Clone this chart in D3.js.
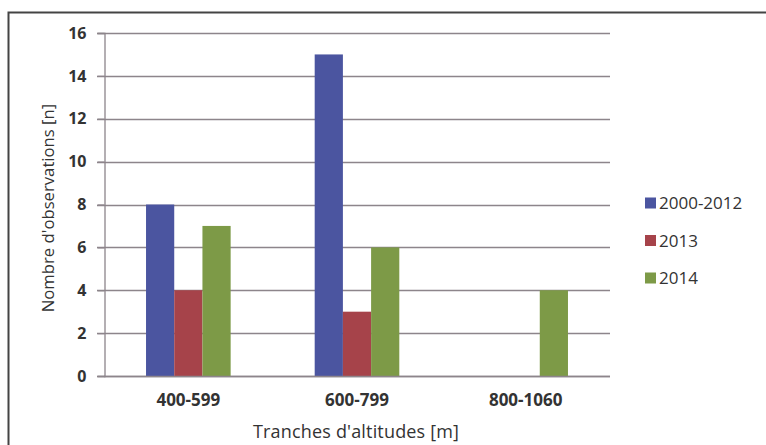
<!DOCTYPE html>
<html>
<head>
<meta charset="utf-8">
<script src="https://cdn.jsdelivr.net/npm/d3@7"></script>
<style>
  html, body { margin: 0; padding: 0; background: #fff; }
  svg { display: block; }
  text { font-family: "Open Sans", "Noto Sans", sans-serif; fill: #333; }
</style>
</head>
<body>
<svg id="chart" width="766" height="445"></svg>
<script>
// Observations by altitude band and period
const categories = ["400-599", "600-799", "800-1060"];
const seriesNames = ["2000-2012", "2013", "2014"];
const values2000_2012 = [8, 15, 0];
const values2013 = [4, 3, 0];
const values2014 = [7, 6, 4];
const yTicks = [0, 2, 4, 6, 8, 10, 12, 14, 16];
const colors = ["#4b55a0", "#a6434a", "#7d9a47"];

const seriesValues = [values2000_2012, values2013, values2014];

const svg = d3.select("#chart");
const margin = { left: 104, right: 156, top: 33, bottom: 69 };
const W = 766, H = 445;

// outer frame (only top and left edges fall inside the view)
svg.append("rect")
  .attr("x", 8.5).attr("y", 12.5)
  .attr("width", 800).attr("height", 500)
  .attr("fill", "none").attr("stroke", "#444").attr("stroke-width", 2);

const x0 = d3.scaleBand()
  .domain(categories)
  .range([margin.left, W - margin.right])
  .paddingInner(0).paddingOuter(0);

const x1 = d3.scaleBand()
  .domain(seriesNames)
  .range([0, x0.bandwidth()])
  .paddingInner(0)
  .paddingOuter(1.49);

const y = d3.scaleLinear()
  .domain([0, 16])
  .range([H - margin.bottom, margin.top]);

// gridlines
svg.append("g")
  .selectAll("line")
  .data(yTicks)
  .join("line")
  .attr("x1", margin.left - 7)
  .attr("x2", W - margin.right)
  .attr("y1", d => Math.round(y(d)) + 0.5)
  .attr("y2", d => Math.round(y(d)) + 0.5)
  .attr("stroke", "#8d858b")
  .attr("stroke-width", 1.3);

// bars
const groups = svg.append("g")
  .selectAll("g")
  .data(categories)
  .join("g")
  .attr("transform", d => `translate(${x0(d)},0)`);

groups.selectAll("rect")
  .data((c, ci) => seriesNames.map((s, si) => ({ s, v: seriesValues[si][ci], si })))
  .join("rect")
  .attr("x", d => x1(d.s))
  .attr("width", x1.bandwidth())
  .attr("y", d => y(d.v))
  .attr("height", d => y(0) - y(d.v))
  .attr("fill", d => colors[d.si]);

// y axis
const yAxis = d3.axisLeft(y).tickValues(yTicks).tickSize(7).tickPadding(11);
const gy = svg.append("g")
  .attr("transform", `translate(${margin.left + 0.5},0)`)
  .call(yAxis);
gy.select(".domain").attr("stroke", "#8d858b").attr("stroke-width", 1.3);
gy.selectAll(".tick line").attr("stroke", "#8d858b").attr("stroke-width", 1.3);
gy.selectAll(".tick text")
  .attr("font-family", "'Open Sans', sans-serif")
  .attr("font-size", 16).attr("font-weight", "bold").attr("fill", "#333");

// x axis baseline and category labels
svg.append("line")
  .attr("x1", margin.left).attr("x2", W - margin.right)
  .attr("y1", Math.round(y(0)) + 0.5).attr("y2", Math.round(y(0)) + 0.5)
  .attr("stroke", "#8d858b").attr("stroke-width", 1.5);

svg.append("g")
  .selectAll("text")
  .data(categories)
  .join("text")
  .attr("x", d => x0(d) + x0.bandwidth() / 2)
  .attr("y", 406)
  .attr("text-anchor", "middle")
  .attr("font-size", 17).attr("font-weight", "bold")
  .text(d => d);

// axis titles
svg.append("text")
  .attr("x", 356)
  .attr("y", 438)
  .attr("text-anchor", "middle")
  .attr("font-size", 18)
  .attr("textLength", 206)
  .attr("lengthAdjust", "spacing")
  .text("Tranches d'altitudes [m]");

svg.append("text")
  .attr("transform", `translate(54,208) rotate(-90)`)
  .attr("text-anchor", "middle")
  .attr("font-size", 16.7)
  .text("Nombre d'observations [n]");

// legend
const legend = svg.append("g")
  .selectAll("g")
  .data(seriesNames)
  .join("g")
  .attr("transform", (d, i) => `translate(645,${203 + i * 37.5})`);
legend.append("rect")
  .attr("x", 0).attr("y", -5.5).attr("width", 11).attr("height", 11)
  .attr("fill", (d, i) => colors[i]);
legend.append("text")
  .attr("x", 14).attr("y", 6)
  .attr("font-size", 17)
  .text(d => d);
</script>
</body>
</html>
